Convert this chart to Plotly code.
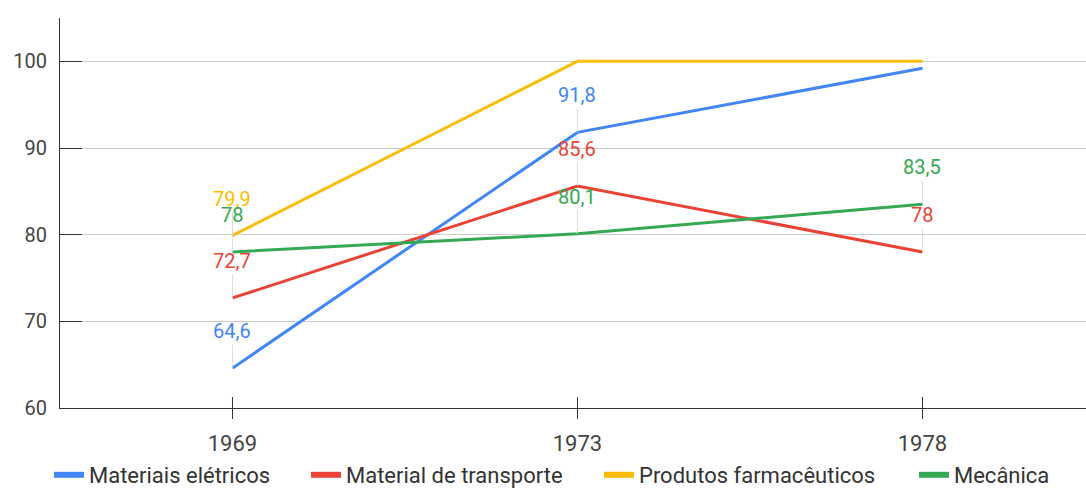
import plotly.graph_objects as go

# Categories and series values
years = ["1969", "1973", "1978"]
materiais_eletricos = [64.6, 91.8, 99.2]
material_transporte = [72.7, 85.6, 78.0]
produtos_farmaceuticos = [79.9, 100.0, 100.0]
mecanica = [78.0, 80.1, 83.5]

series_names = ["Materiais elétricos", "Material de transporte",
                "Produtos farmacêuticos", "Mecânica"]
series_values = [materiais_eletricos, material_transporte,
                 produtos_farmaceuticos, mecanica]
series_colors = ["#4285F4", "#EA4335", "#FBBC04", "#34A853"]

# Data labels that are not drawn (they would collide at the top)
hidden_labels = {("Materiais elétricos", "1978"),
                 ("Produtos farmacêuticos", "1973"),
                 ("Produtos farmacêuticos", "1978")}

y_ticks = [60, 70, 80, 90, 100]

FONT = "Roboto, Arial, sans-serif"
W, H = 1086, 491

fig = go.Figure()

for name, vals, color in zip(series_names, series_values, series_colors):
    fig.add_trace(go.Scatter(
        x=years, y=vals, mode="lines", name=name,
        line=dict(color=color, width=3), showlegend=False,
        hoverinfo="x+y+name",
    ))

# One legend per series so each entry sits at its own position
legend_ids = ["legend", "legend2", "legend3", "legend4"]
legend_left_px = [49, 306, 599, 914]
for name, color, lid in zip(series_names, series_colors, legend_ids):
    fig.add_trace(go.Scatter(
        x=[None], y=[None], mode="lines", name=name,
        line=dict(color=color, width=6), showlegend=True, legend=lid,
    ))

annotations = []
for name, vals, color in zip(series_names, series_values, series_colors):
    for yr, v in zip(years, vals):
        if (name, yr) in hidden_labels:
            continue
        annotations.append(dict(
            x=years.index(yr), y=v, xref="x", yref="y",
            text=f"{v:g}".replace(".", ","),
            showarrow=True, arrowhead=0, arrowwidth=1,
            arrowcolor="rgba(215,215,215,0.8)",
            ax=0, ay=-37, standoff=0,
            font=dict(family=FONT, size=20, color=color),
        ))

# Tick marks crossing the category axis (upper half)
shapes = []
for yr in years:
    shapes.append(dict(
        type="line", xref="x", yref="paper",
        x0=years.index(yr), x1=years.index(yr), y0=0, y1=11 / 390,
        line=dict(color="#333333", width=1),
    ))

legend_style = dict(
    orientation="h", xref="container", yref="container",
    y=(H - 475) / H, xanchor="left", yanchor="middle",
    font=dict(family=FONT, size=22, color="#333333"),
    itemwidth=30, bgcolor="rgba(0,0,0,0)",
)
legends = {}
for lid, px in zip(legend_ids, legend_left_px):
    legends[lid] = dict(legend_style, x=px / W)

fig.update_layout(
    width=W, height=H,
    margin=dict(l=60, r=0, t=18, b=83, autoexpand=False),
    paper_bgcolor="white", plot_bgcolor="white",
    font=dict(family=FONT, color="#444444"),
    annotations=annotations,
    shapes=shapes,
    xaxis=dict(
        type="category", categoryorder="array", categoryarray=years,
        range=[-0.5, 2.474],
        showline=True, linecolor="#333333", linewidth=1,
        ticks="outside", ticklen=10, tickcolor="#333333",
        ticklabelstandoff=6, automargin=False,
        showgrid=False, zeroline=False,
        tickfont=dict(family=FONT, size=22, color="#444444"),
    ),
    yaxis=dict(
        range=[60, 105], tickvals=y_ticks,
        showline=True, linecolor="#333333", linewidth=1,
        ticks="inside", ticklen=22, tickcolor="#333333",
        ticklabelstandoff=8, automargin=False,
        showgrid=True, gridcolor="#cccccc", gridwidth=1,
        zeroline=False,
        tickfont=dict(family=FONT, size=20, color="#444444"),
    ),
    **legends,
)

fig.write_html("out.html")
